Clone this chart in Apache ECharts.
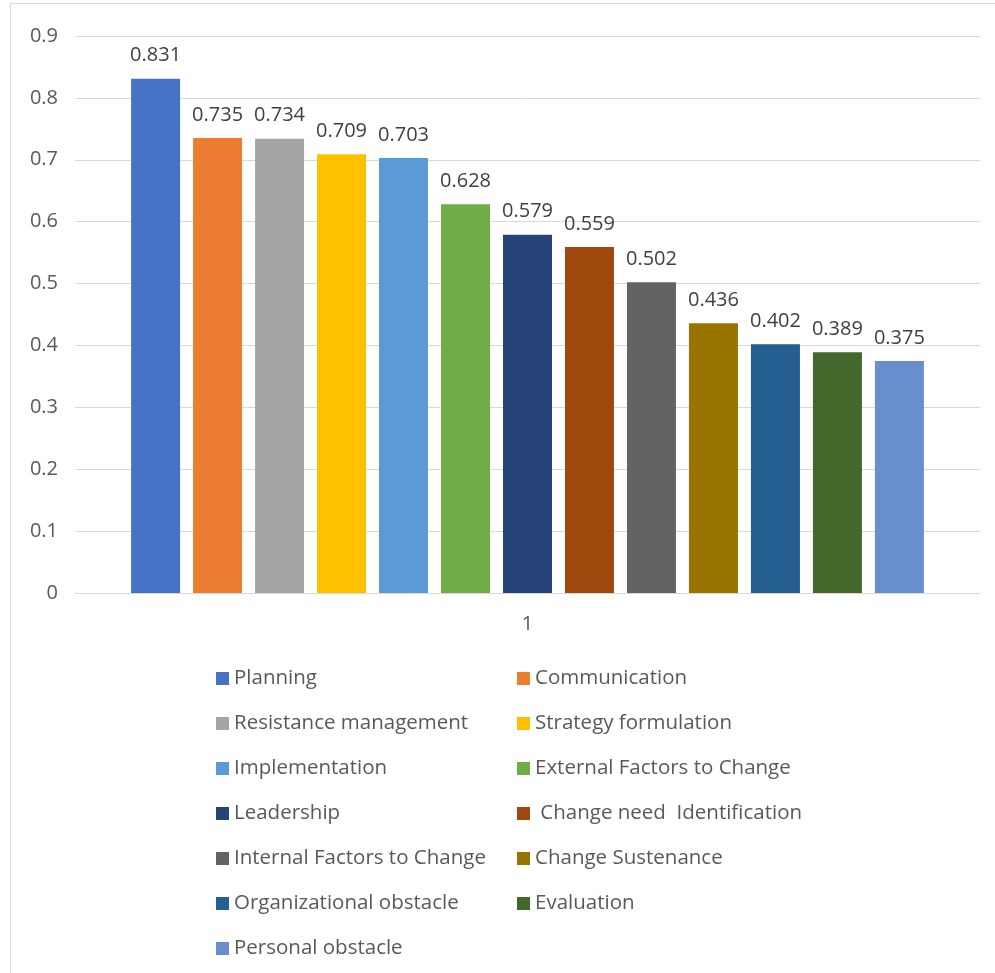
<!DOCTYPE html>
<html>
<head>
<meta charset="utf-8">
<script src="https://cdn.jsdelivr.net/npm/echarts@6/dist/echarts.min.js"></script>
<style>
  html, body { margin: 0; padding: 0; background: #fff; }
  #chart { width: 995px; height: 973px; }
</style>
</head>
<body>
<div id="chart"></div>
<script>
// Factor names, their scores and bar colours
const categories = ['1'];
const factorNames = [
  'Planning', 'Communication', 'Resistance management', 'Strategy formulation',
  'Implementation', 'External Factors to Change', 'Leadership', ' Change need  Identification',
  'Internal Factors to Change', 'Change Sustenance', 'Organizational obstacle', 'Evaluation',
  'Personal obstacle'
];
const factorScores = [0.831, 0.735, 0.734, 0.709, 0.703, 0.628, 0.579, 0.559, 0.502, 0.436, 0.402, 0.389, 0.375];
const factorColors = [
  '#4472C4', '#ED7D31', '#A5A5A5', '#FFC000', '#5B9BD5', '#70AD47', '#264478',
  '#9E480E', '#636363', '#997300', '#255E91', '#43682B', '#698ED0'
];
const yTicks = { min: 0, max: 0.9, interval: 0.1 };

const FONT = '"Open Sans"';

const series = factorNames.map((name, i) => ({
  name: name,
  type: 'bar',
  data: [factorScores[i]],
  barWidth: 49,
  barGap: '26.5%',
  itemStyle: { color: factorColors[i] },
  label: {
    show: true,
    position: 'top',
    distance: 13,
    color: '#404040',
    fontFamily: FONT,
    fontSize: 20,
    formatter: (p) => p.value.toFixed(3)
  }
}));

// Legend laid out in two columns: odd positions left, even positions right
const leftCol = factorNames.filter((_, i) => i % 2 === 0);
const rightCol = factorNames.filter((_, i) => i % 2 === 1);
const legendBase = {
  orient: 'vertical',
  top: 663,
  itemWidth: 13,
  itemHeight: 13,
  itemGap: 24,
  icon: 'rect',
  textStyle: { color: '#595959', fontFamily: FONT, fontSize: 20.5 },
  selectedMode: false
};

const chart = echarts.init(document.getElementById('chart'), null, { renderer: 'canvas' });
chart.setOption({
  animation: false,
  backgroundColor: '#fff',
  graphic: [{
    type: 'rect',
    shape: { x: 10.5, y: 3.5, width: 1000, height: 1000 },
    style: { fill: 'none', stroke: '#d9d9d9', lineWidth: 1 },
    silent: true
  }],
  grid: { left: 75, right: 15, top: 36, height: 557 },
  legend: [
    Object.assign({}, legendBase, { left: 211, data: leftCol }),
    Object.assign({}, legendBase, { left: 512, data: rightCol })
  ],
  xAxis: {
    type: 'category',
    data: categories,
    axisLine: { lineStyle: { color: '#d9d9d9', width: 1 } },
    axisTick: { show: false },
    axisLabel: { color: '#595959', fontFamily: FONT, fontSize: 20, margin: 21 }
  },
  yAxis: {
    type: 'value',
    min: yTicks.min,
    max: yTicks.max,
    interval: yTicks.interval,
    axisLine: { show: false },
    axisTick: { show: false },
    splitLine: { lineStyle: { color: '#d9d9d9', width: 1 } },
    axisLabel: {
      color: '#595959', fontFamily: FONT, fontSize: 20, margin: 17,
      formatter: (v) => (Math.round(v * 10) / 10).toString()
    }
  },
  series: series
});
</script>
</body>
</html>
